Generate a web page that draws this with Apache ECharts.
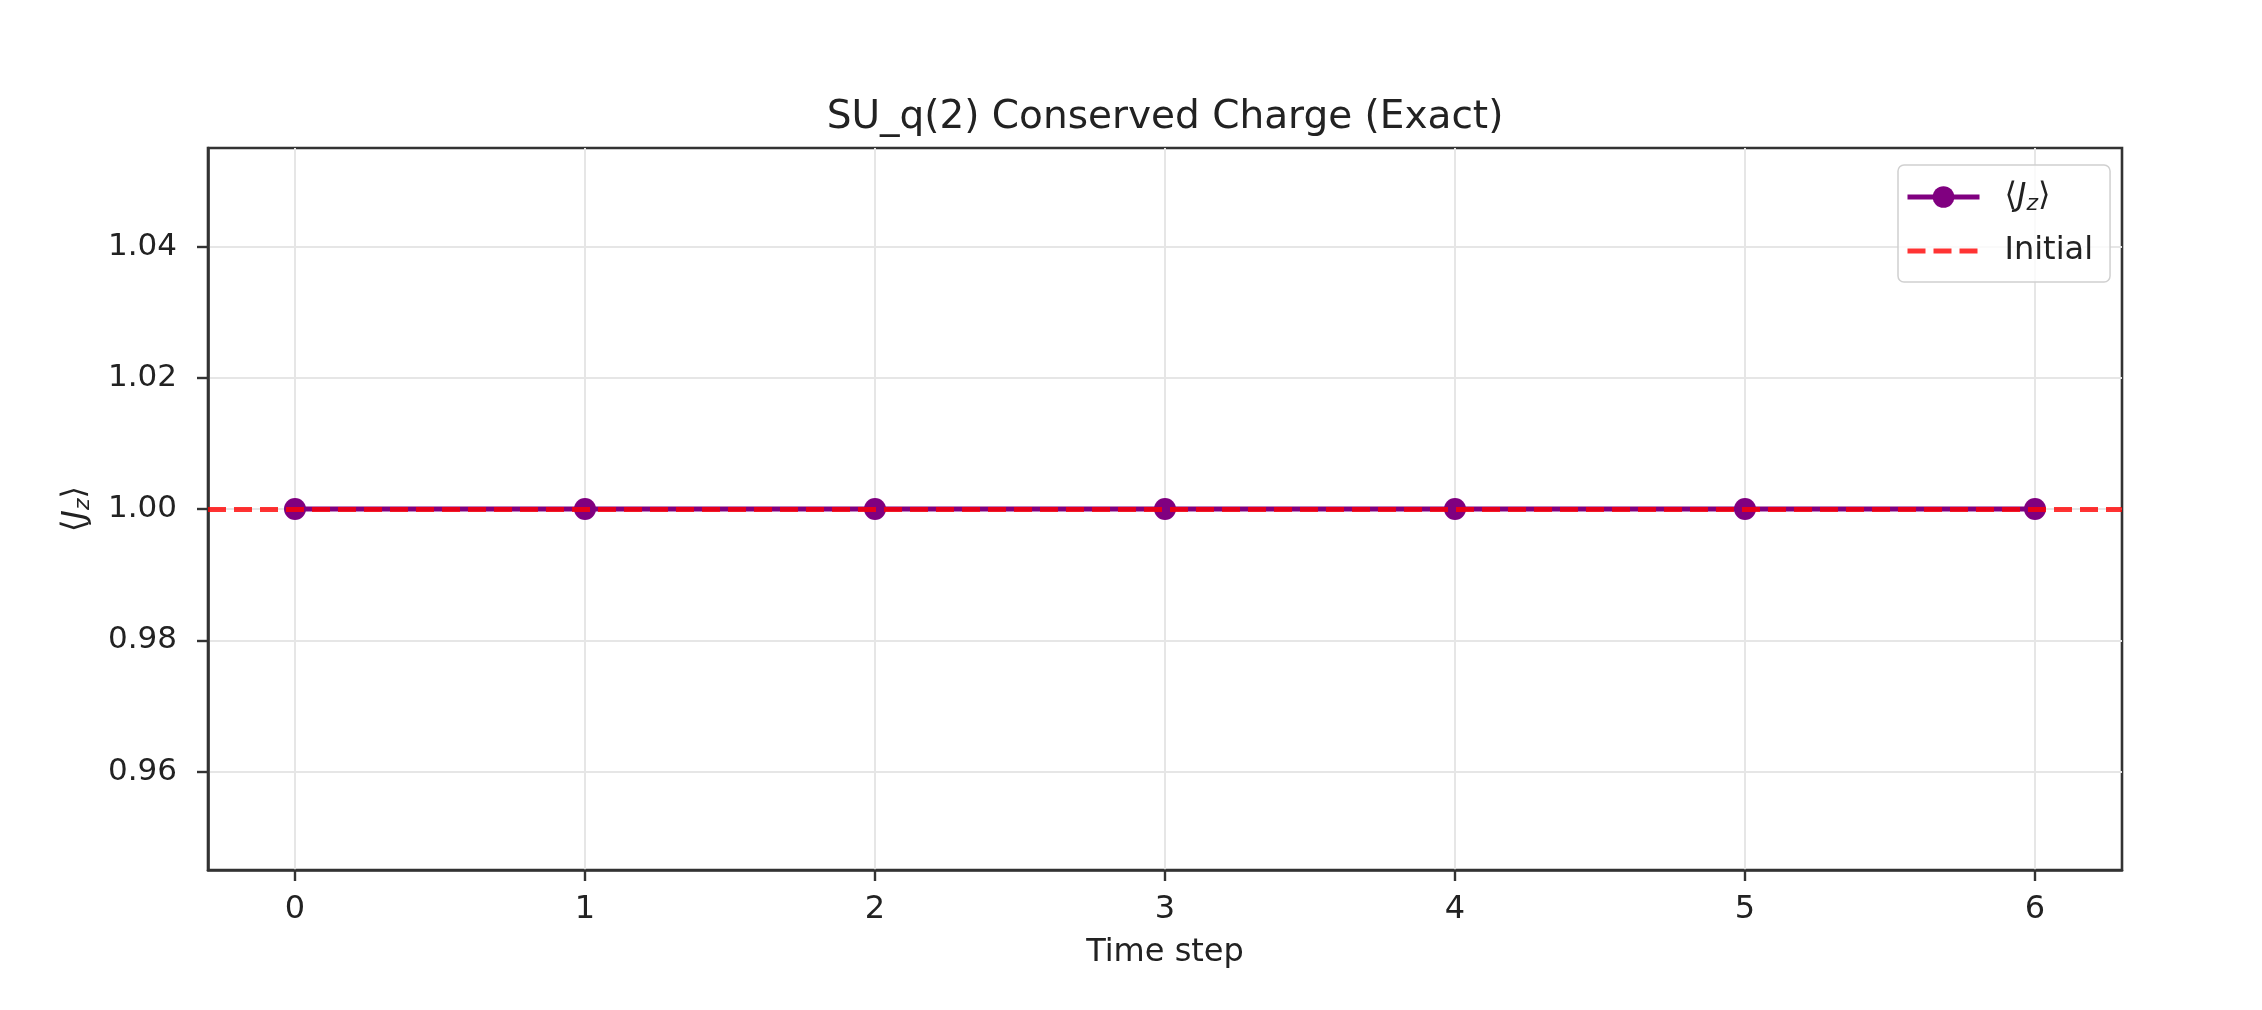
<!DOCTYPE html>
<html>
<head>
<meta charset="utf-8">
<script src="https://cdn.jsdelivr.net/npm/echarts@6/dist/echarts.min.js"></script>
<style>
html,body{margin:0;padding:0;background:#fff;}
#chart{width:2262px;height:1010px;}
</style>
</head>
<body>
<div id="chart"></div>
<script>
// ---- data ----
var timeSteps = [0, 1, 2, 3, 4, 5, 6];
var jzValues = [1.0, 1.0, 1.0, 1.0, 1.0, 1.0, 1.0];
var initialValue = 1.0;
var xTicks = [0, 1, 2, 3, 4, 5, 6];
var yTicks = [0.96, 0.98, 1.00, 1.02, 1.04];
var xRange = [-0.3, 6.3];
var yRange = [0.945, 1.055];
var titleText = 'SU_q(2) Conserved Charge (Exact)';
var xLabel = 'Time step';
var seriesNames = ['⟨J_z⟩', 'Initial'];

var FONT = 'DejaVu Sans';
var TXT = '#222';
var AX = '#333';
var PURPLE = '#800080';
var RED = 'rgba(255,0,0,0.8)';

var jzPoints = timeSteps.map(function (t, i) { return [t, jzValues[i]]; });

var richJz = {
  a: { fontFamily: FONT, fontSize: 32, color: TXT },
  j: { fontFamily: FONT, fontSize: 32, fontStyle: 'italic', color: TXT },
  s: { fontFamily: FONT, fontSize: 22, fontStyle: 'italic', color: TXT, padding: [14, 0, 0, 0] }
};

var chart = echarts.init(document.getElementById('chart'), null, { renderer: 'canvas' });
chart.setOption({
  backgroundColor: '#ffffff',
  animation: false,
  title: {
    text: titleText,
    left: 1165,
    top: 98,
    padding: 0,
    textAlign: 'center',
    textStyle: { fontFamily: FONT, fontSize: 39, fontWeight: 'normal', color: TXT }
  },
  grid: {
    left: 208, top: 148, width: 1914, height: 722,
    show: true, borderColor: AX, borderWidth: 2.6, backgroundColor: 'transparent',
    containLabel: false
  },
  legend: {
    orient: 'vertical',
    left: 1898, top: 165,
    padding: [14, 17, 13, 7],
    itemWidth: 72, itemHeight: 27, itemGap: 18,
    backgroundColor: 'rgba(255,255,255,0.8)',
    borderColor: '#d0d0d0', borderWidth: 1.5, borderRadius: 6,
    data: [
      { name: seriesNames[0], lineStyle: { width: 5, color: PURPLE } },
      { name: seriesNames[1], itemStyle: { opacity: 0 }, lineStyle: { width: 5, color: RED, type: [18, 8] } }
    ],
    formatter: function (name) {
      if (name === seriesNames[0]) return '{a|⟨}{j|J}{s|z}{a|⟩}';
      return name;
    },
    textStyle: {
      fontFamily: FONT, fontSize: 32, color: TXT, lineHeight: 36,
      padding: [0, 0, 0, 20],
      rich: richJz
    }
  },
  xAxis: {
    type: 'value',
    min: xRange[0], max: xRange[1],
    name: xLabel, nameLocation: 'middle', nameGap: 67,
    nameTextStyle: { fontFamily: FONT, fontSize: 32, color: TXT },
    axisLine: { show: true, onZero: false, lineStyle: { color: AX, width: 2.6 } },
    axisTick: { show: true, customValues: xTicks, length: 11, lineStyle: { color: AX, width: 2.4 } },
    axisLabel: {
      customValues: xTicks, margin: 24,
      fontFamily: FONT, fontSize: 32, color: TXT,
      formatter: function (v) { return String(Math.round(v)); }
    },
    splitLine: { show: true, lineStyle: { color: '#e6e6e6', width: 2 } }
  },
  yAxis: {
    type: 'value',
    min: yRange[0], max: yRange[1],
    name: '{a|⟨}{j|J}{s|z}{a|⟩}', nameLocation: 'middle', nameGap: 114, nameRotate: 90,
    nameTextStyle: { fontFamily: FONT, fontSize: 32, color: TXT, rich: richJz },
    axisLine: { show: true, onZero: false, lineStyle: { color: AX, width: 2.6 } },
    axisTick: { show: true, customValues: yTicks, length: 11, lineStyle: { color: AX, width: 2.4 } },
    axisLabel: {
      customValues: yTicks, margin: 31,
      fontFamily: FONT, fontSize: 31, color: TXT,
      formatter: function (v) { return v.toFixed(2); }
    },
    splitLine: { show: true, lineStyle: { color: '#e6e6e6', width: 2 } }
  },
  series: [
    {
      name: seriesNames[0],
      type: 'line',
      data: jzPoints,
      symbol: 'circle',
      symbolSize: 22,
      itemStyle: { color: PURPLE },
      lineStyle: { color: PURPLE, width: 5 },
      z: 2
    },
    {
      name: seriesNames[1],
      type: 'line',
      data: [],
      symbol: 'none',
      itemStyle: { color: RED },
      lineStyle: { color: RED, width: 5, type: [18, 8] },
      markLine: {
        silent: true,
        symbol: 'none',
        label: { show: false },
        lineStyle: { color: RED, width: 5, type: [18, 8] },
        data: [{ yAxis: initialValue }]
      },
      z: 3
    }
  ]
});
</script>
</body>
</html>
